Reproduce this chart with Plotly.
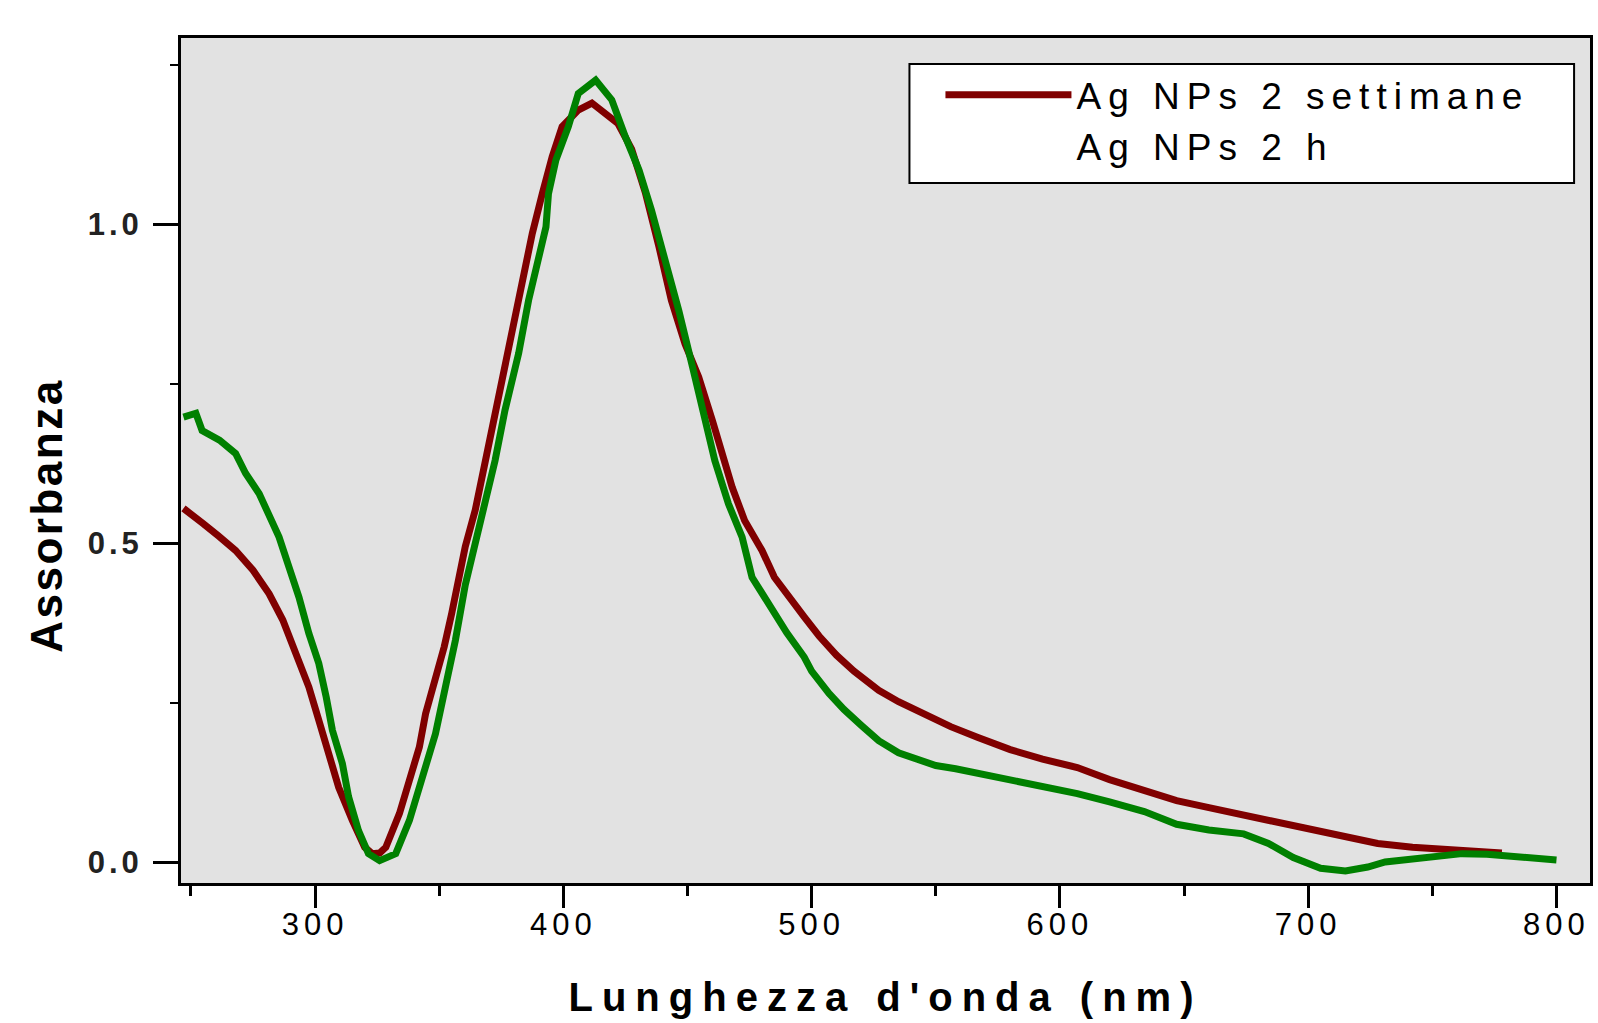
import plotly.graph_objects as go

# ---- data ----
wl_2settimane = [247, 250, 255, 261, 268, 275, 281.5, 287, 292, 297.5, 301.5, 305.5, 309.5, 315, 320, 323, 326,
                 328.5, 334, 338, 342, 344.5, 348.5, 352, 355, 357.5, 360.5, 364.5, 370, 375.5, 379.5, 383.5,
                 387.5, 391.5, 395.5, 399.5, 406, 411.5, 417, 422, 427.5, 433, 438.5, 443.5, 449, 454.5, 460,
                 464, 468, 473, 480, 485, 490, 497, 503, 510, 517, 527, 535, 545, 556, 567, 580, 593, 607, 620,
                 634, 647, 660, 674, 688, 700, 714, 728, 742, 755, 768, 778]
abs_2settimane = [0.555, 0.545, 0.531, 0.512, 0.489, 0.458, 0.421, 0.380, 0.327, 0.275, 0.223, 0.171, 0.118,
                  0.066, 0.024, 0.014, 0.015, 0.024, 0.077, 0.129, 0.181, 0.233, 0.285, 0.338, 0.390, 0.442,
                  0.495, 0.552, 0.657, 0.761, 0.839, 0.918, 0.986, 1.048, 1.106, 1.153, 1.179, 1.190, 1.174,
                  1.158, 1.118, 1.050, 0.965, 0.881, 0.813, 0.761, 0.693, 0.641, 0.588, 0.536, 0.489, 0.447,
                  0.420, 0.385, 0.355, 0.325, 0.300, 0.270, 0.252, 0.232, 0.213, 0.196, 0.177, 0.162, 0.149,
                  0.130, 0.112, 0.097, 0.086, 0.074, 0.063, 0.054, 0.042, 0.030, 0.024, 0.020, 0.017, 0.015]

wl_2h = [247, 252, 254.5, 261.5, 268, 272, 277.5, 281.5, 285.5, 289.5, 293.5, 297.5, 301.5, 304.5, 307, 311,
         313.5, 317.5, 321.5, 326, 332.5, 338, 343, 348.5, 352.5, 356.5, 360.5, 367, 372.5, 376.5, 382, 386,
         390, 393, 394, 397, 402, 406, 413, 419.5, 425, 430.5, 435.5, 441, 446.5, 452, 456, 461, 466.5, 472,
         476, 486.5, 490, 497, 500, 507, 513, 520, 527, 535, 543, 550, 558, 567, 580, 593, 607, 620, 634, 647,
         660, 674, 684, 694, 705, 715, 724, 731, 741, 752, 762, 772, 782, 792, 800]
abs_2h = [0.698, 0.704, 0.677, 0.662, 0.641, 0.610, 0.578, 0.547, 0.510, 0.463, 0.416, 0.359, 0.312, 0.259,
          0.207, 0.155, 0.103, 0.050, 0.014, 0.003, 0.014, 0.066, 0.129, 0.202, 0.275, 0.348, 0.435, 0.536,
          0.630, 0.709, 0.798, 0.881, 0.944, 0.996, 1.048, 1.101, 1.153, 1.205, 1.226, 1.195, 1.137, 1.085,
          1.022, 0.944, 0.865, 0.777, 0.709, 0.630, 0.562, 0.510, 0.447, 0.380, 0.360, 0.322, 0.300, 0.265,
          0.240, 0.215, 0.191, 0.172, 0.160, 0.152, 0.147, 0.140, 0.128, 0.118, 0.108, 0.095, 0.080, 0.060,
          0.051, 0.045, 0.030, 0.008, -0.009, -0.013, -0.007, 0.001, 0.006, 0.010, 0.014, 0.013, 0.010,
          0.008, 0.004]

x_tickvals = [300, 400, 500, 600, 700, 800]
x_ticktext = ["300", "400", "500", "600", "700", "800"]
y_tickvals = [0.0, 0.5, 1.0]
y_ticktext = ["0.0", "0.5", "1.0"]

name_a = "Ag NPs 2 settimane"
name_b = "Ag NPs 2 h"
x_title = "Lunghezza d'onda (nm)"
y_title = "Assorbanza"

RED = "#800000"
GREEN = "#008000"
SANS = "Liberation Sans, Arial, sans-serif"

fig = go.Figure()
fig.add_trace(go.Scatter(x=wl_2settimane, y=abs_2settimane, mode="lines", name=name_a,
                         line=dict(color=RED, width=7)))
fig.add_trace(go.Scatter(x=[None], y=[None], mode="lines", name=name_b,
                         line=dict(color="rgba(0,0,0,0)", width=7)))
fig.add_trace(go.Scatter(x=wl_2h, y=abs_2h, mode="lines", name=name_b, showlegend=False,
                         line=dict(color=GREEN, width=7)))

fig.update_layout(
    width=1598, height=1023,
    margin=dict(l=181, r=5, t=38, b=140),
    paper_bgcolor="white",
    plot_bgcolor="#e2e2e2",
    showlegend=True,
    legend=dict(
        x=0.539, y=0.969, xanchor="left", yanchor="top",
        bgcolor="rgba(0,0,0,0)", borderwidth=0,
        font=dict(family=SANS, size=37, color="black"),
        itemwidth=126, tracegroupgap=0,
    ),
    shapes=[dict(type="rect", xref="paper", yref="paper",
                 x0=0.517, x1=0.9887, y0=0.8284, y1=0.9692,
                 fillcolor="white", line=dict(color="black", width=2), layer="above")],
    xaxis=dict(
        range=[246, 813.5], showgrid=False, zeroline=False,
        showline=True, linecolor="black", linewidth=3, mirror=True,
        ticks="outside", ticklen=22, tickwidth=3, tickcolor="black",
        tickvals=x_tickvals, ticktext=x_ticktext,
        tickfont=dict(family=SANS, size=31, color="black"),
        ticklabelstandoff=-10,
        minor=dict(ticks="outside", ticklen=10, tickwidth=3, tickcolor="black", dtick=50, tick0=0),
        title=dict(text=x_title, standoff=42,
                   font=dict(family=SANS, size=40, color="black", weight="bold")),
    ),
    yaxis=dict(
        range=[-0.032, 1.292], showgrid=False, zeroline=False,
        showline=True, linecolor="black", linewidth=3, mirror=True,
        ticks="outside", ticklen=25, tickwidth=3, tickcolor="black",
        tickvals=y_tickvals, ticktext=y_ticktext,
        tickfont=dict(family=SANS, size=31, color="#222222", weight="bold"),
        minor=dict(ticks="outside", ticklen=8, tickwidth=2, tickcolor="black", dtick=0.25, tick0=0),
        ticklabelstandoff=4,
    ),
    annotations=[dict(
        text=y_title, xref="paper", yref="paper", x=-0.0956, y=0.4355,
        xanchor="center", yanchor="middle", textangle=-90, showarrow=False,
        font=dict(family=SANS, size=44, color="black", weight="bold"),
    )],
)

post = """
var gd = document.getElementById('{plot_id}');
function sp(){
  gd.querySelectorAll('.xtitle').forEach(function(e){e.style.letterSpacing='9px';});
  gd.querySelectorAll('.legendtext').forEach(function(e){e.style.letterSpacing='7px';});
  gd.querySelectorAll('.legend .scrollbox').forEach(function(e){e.removeAttribute('clip-path');});
  gd.querySelectorAll('.legend').forEach(function(e){e.removeAttribute('clip-path');});
  gd.querySelectorAll('.xtick text').forEach(function(e){e.style.letterSpacing='5px';});
  gd.querySelectorAll('.ytick text').forEach(function(e){e.style.letterSpacing='4px';});
  gd.querySelectorAll('.annotation-text').forEach(function(e){e.style.letterSpacing='2.5px';});
}
sp();
gd.on('plotly_afterplot', sp);
"""

fig.write_html("out.html", post_script=post)
